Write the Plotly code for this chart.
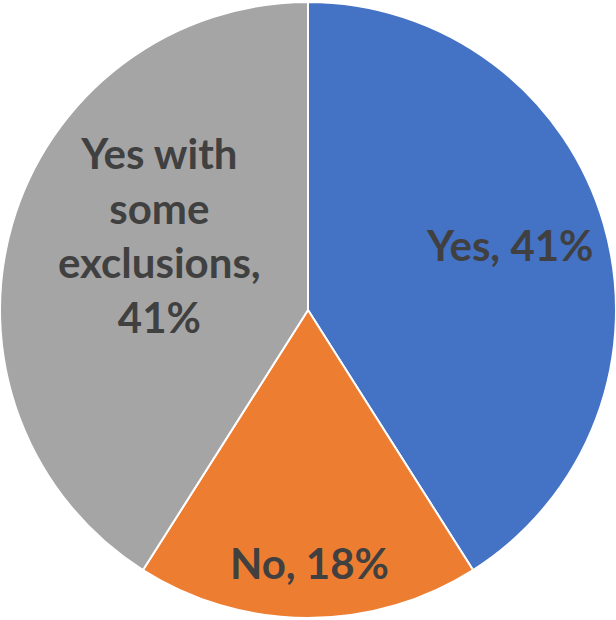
import plotly.graph_objects as go

labels = ["Yes", "No", "Yes with some exclusions"]
values = [41, 18, 41]
colors = ["#4472C4", "#ED7D31", "#A5A5A5"]
label_text = ["Yes, 41%", "No, 18%", "Yes with<br>some<br>exclusions,<br>41%"]
label_pos = [(0.828, 0.605), (0.503, 0.092), (0.259, 0.621)]

fig = go.Figure(go.Pie(
    labels=labels, values=values, sort=False, direction="clockwise", rotation=0,
    marker=dict(colors=colors, line=dict(color="white", width=2)),
    textinfo="none", hoverinfo="label+percent", showlegend=False,
    domain=dict(x=[0, 1], y=[0, 1]),
))
for t, (x, y) in zip(label_text, label_pos):
    fig.add_annotation(text=t, x=x, y=y, xref="paper", yref="paper", showarrow=False,
                       xanchor="center", yanchor="middle",
                       font=dict(family="Lato", size=42, color="#404040", weight="bold"),
                       align="center")
fig.update_layout(width=616, height=620, margin=dict(l=0, r=0, t=0, b=0),
                  paper_bgcolor="white")
fig.write_html("out.html", config={"displayModeBar": False},
               post_script="document.body.style.margin='0';")
